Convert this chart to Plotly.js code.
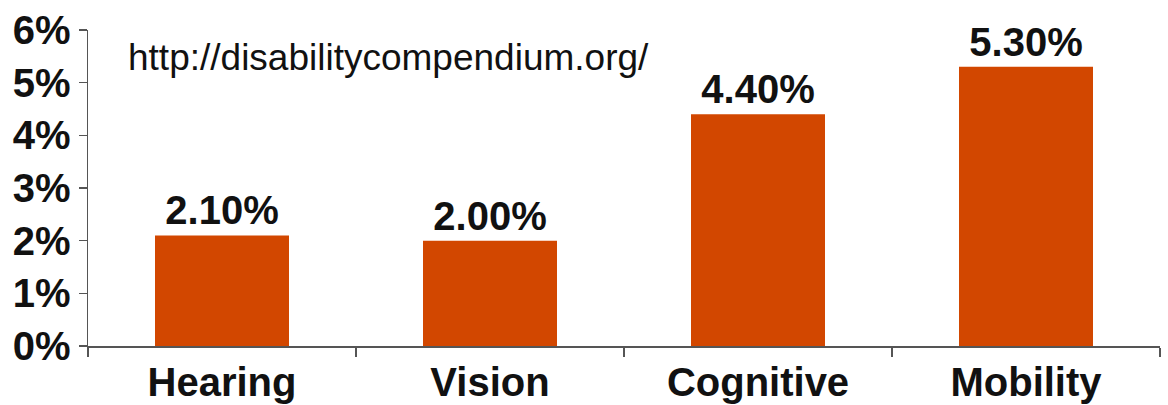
<!DOCTYPE html>
<html>
<head>
<meta charset="utf-8">
<script src="https://cdn.plot.ly/plotly-3.0.1.min.js"></script>
<style>
html,body{margin:0;padding:0;background:#fff;}
#chart{width:1168px;height:405px;}
</style>
</head>
<body>
<div id="chart"></div>
<script>
const categories = ["Hearing", "Vision", "Cognitive", "Mobility"];
const values = [2.10, 2.00, 4.40, 5.30];
const yTickVals = [0, 1, 2, 3, 4, 5, 6];
const yTickText = ["0%", "1%", "2%", "3%", "4%", "5%", "6%"];
const sourceNote = "http://disabilitycompendium.org/";

const boldFont = {family: "Liberation Sans, Arial, sans-serif", size: 40, color: "#111", weight: 700};

const trace = {
  type: "bar",
  x: categories,
  y: values,
  marker: {color: "#D24700", line: {width: 0}},
  text: values.map(v => v.toFixed(2) + "%"),
  textposition: "outside",
  textfont: boldFont,
  cliponaxis: false,
  hoverinfo: "none"
};

const layout = {
  width: 1168,
  height: 405,
  margin: {l: 88, r: 8, t: 29.5, b: 59, pad: 0},
  paper_bgcolor: "#fff",
  plot_bgcolor: "#fff",
  showlegend: false,
  bargap: 0.5,
  font: {family: "Liberation Sans, Arial, sans-serif"},
  xaxis: {
    type: "category",
    showgrid: false,
    zeroline: false,
    showline: true,
    linecolor: "#555",
    linewidth: 1.5,
    ticks: "outside",
    tickson: "boundaries",
    ticklen: 9,
    tickwidth: 1.5,
    tickcolor: "#555",
    tickfont: boldFont,
    ticklabelstandoff: 0
  },
  yaxis: {
    range: [0, 6],
    showgrid: false,
    zeroline: false,
    showline: true,
    linecolor: "#555",
    linewidth: 1.5,
    ticks: "outside",
    ticklen: 8,
    tickwidth: 1.5,
    tickcolor: "#555",
    tickmode: "array",
    tickvals: yTickVals,
    ticktext: yTickText,
    tickfont: boldFont,
    ticklabelstandoff: 0
  },
  annotations: [{
    text: sourceNote,
    xref: "paper", yref: "paper",
    x: 0.0355, y: 0.912,
    xanchor: "left", yanchor: "middle",
    showarrow: false,
    font: {family: "Liberation Sans, Arial, sans-serif", size: 37, color: "#111"}
  }]
};

Plotly.newPlot("chart", [trace], layout, {staticPlot: true, displayModeBar: false});
</script>
</body>
</html>
